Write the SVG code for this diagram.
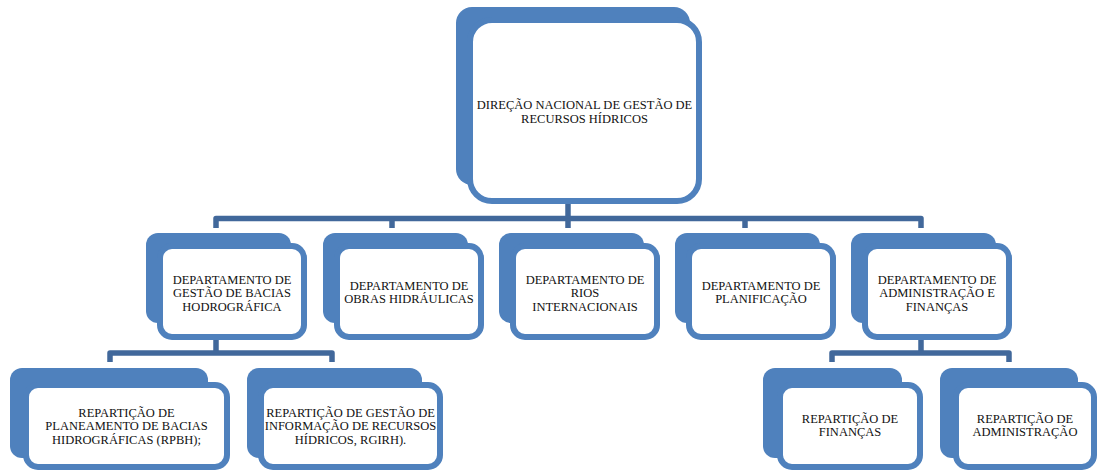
<svg xmlns="http://www.w3.org/2000/svg" width="1099" height="471" viewBox="0 0 1099 471">
<style>
.back{fill:#4F81BD}
.front{fill:#FFFFFF;stroke:#4F81BD;stroke-width:6}
.conn{fill:none;stroke:#41689B;stroke-width:5.5;stroke-linejoin:round}
.t{font-family:"Liberation Serif","DejaVu Serif",serif;font-size:12.5px;fill:#111111;text-anchor:middle}
</style>
<rect width="1099" height="471" fill="#FFFFFF"/>
<g id="connectors">
<path class="conn" d="M568,204 V218.5"/>
<path class="conn" d="M216,228 V218.5 H921 V228"/>
<path class="conn" d="M392,218.5 V228 M568,218.5 V228 M745,218.5 V228"/>
<path class="conn" d="M216,340 V353 M110,362 V353 H332 V362"/>
<path class="conn" d="M921,340 V353 M832,362 V353 H1009 V362"/>
</g>
<g id="n-direcao">
<rect class="back" x="456" y="7" width="234" height="178" rx="16"/>
<rect class="front" x="470" y="20" width="229" height="181" rx="22"/>
<text class="t" x="584.5" y="109">DIREÇÃO NACIONAL DE GESTÃO DE</text>
<text class="t" x="584.5" y="123">RECURSOS HÍDRICOS</text>
</g>
<g id="n-gestao-bacias">
<rect class="back" x="146" y="233" width="145" height="90" rx="12"/>
<rect class="front" x="160" y="246" width="144" height="91" rx="12"/>
<text class="t" x="232" y="284">DEPARTAMENTO DE</text>
<text class="t" x="232" y="297.3">GESTÃO DE BACIAS</text>
<text class="t" x="232" y="310.6">HODROGRÁFICA</text>
</g>
<g id="n-obras">
<rect class="back" x="323" y="233" width="145" height="90" rx="12"/>
<rect class="front" x="337" y="246" width="144" height="91" rx="12"/>
<text class="t" x="409" y="290">DEPARTAMENTO DE</text>
<text class="t" x="409" y="303.3">OBRAS HIDRÁULICAS</text>
</g>
<g id="n-rios">
<rect class="back" x="499" y="233" width="145" height="90" rx="12"/>
<rect class="front" x="513" y="246" width="144" height="91" rx="12"/>
<text class="t" x="585" y="284">DEPARTAMENTO DE</text>
<text class="t" x="585" y="297.3">RIOS</text>
<text class="t" x="585" y="310.6">INTERNACIONAIS</text>
</g>
<g id="n-planificacao">
<rect class="back" x="675" y="233" width="145" height="90" rx="12"/>
<rect class="front" x="689" y="246" width="144" height="91" rx="12"/>
<text class="t" x="761" y="290">DEPARTAMENTO DE</text>
<text class="t" x="761" y="303.3">PLANIFICAÇÃO</text>
</g>
<g id="n-admin-financas">
<rect class="back" x="851" y="233" width="145" height="90" rx="12"/>
<rect class="front" x="865" y="246" width="144" height="91" rx="12"/>
<text class="t" x="937" y="284">DEPARTAMENTO DE</text>
<text class="t" x="937" y="297.3">ADMINISTRAÇÃO E</text>
<text class="t" x="937" y="310.6">FINANÇAS</text>
</g>
<g id="n-rpbh">
<rect class="back" x="10" y="368" width="198" height="90" rx="12"/>
<rect class="front" x="26" y="385" width="201" height="82" rx="12"/>
<text class="t" x="126.5" y="417">REPARTIÇÃO DE</text>
<text class="t" x="126.5" y="430.3">PLANEAMENTO DE BACIAS</text>
<text class="t" x="126.5" y="443.6">HIDROGRÁFICAS (RPBH);</text>
</g>
<g id="n-rgirh">
<rect class="back" x="247" y="368" width="175" height="90" rx="12"/>
<rect class="front" x="261" y="385" width="179" height="82" rx="12"/>
<text class="t" x="350.5" y="417">REPARTIÇÃO DE GESTÃO DE</text>
<text class="t" x="350.5" y="430.3">INFORMAÇÃO DE RECURSOS</text>
<text class="t" x="350.5" y="443.6">HÍDRICOS, RGIRH).</text>
</g>
<g id="n-financas">
<rect class="back" x="763" y="368" width="139" height="90" rx="12"/>
<rect class="front" x="780" y="385" width="140" height="82" rx="12"/>
<text class="t" x="850" y="423">REPARTIÇÃO DE</text>
<text class="t" x="850" y="436.3">FINANÇAS</text>
</g>
<g id="n-administracao">
<rect class="back" x="940" y="368" width="138" height="90" rx="12"/>
<rect class="front" x="956" y="385" width="138" height="82" rx="12"/>
<text class="t" x="1025" y="423">REPARTIÇÃO DE</text>
<text class="t" x="1025" y="436.3">ADMINISTRAÇÃO</text>
</g>
</svg>
